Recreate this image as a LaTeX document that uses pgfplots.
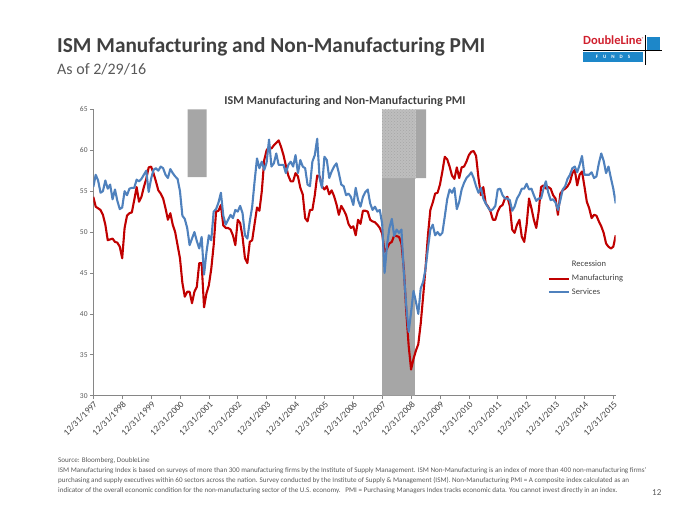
\documentclass[border=0pt]{standalone}
\usepackage{fontspec}
\setmainfont{Carlito}
\usepackage{pgfplots}
\pgfplotsset{compat=1.18}
\usepackage{pgfplotstable}
\usetikzlibrary{patterns}
\definecolor{mfg}{HTML}{C00000}
\definecolor{svc}{HTML}{4F81BD}
\definecolor{rec}{HTML}{A6A6A6}
\definecolor{recl}{HTML}{BEBEBE}
\definecolor{txt}{HTML}{404040}
\definecolor{txtl}{HTML}{595959}
\definecolor{axisgray}{HTML}{868686}
\definecolor{dlred}{HTML}{D0202E}
\definecolor{dlblue}{HTML}{1D87C9}

\pgfplotstableread{
k mfg svc
0 54.3 55.5
1 53.1 57.0
2 52.9 56.3
3 52.7 54.8
4 52.1 55.0
5 50.9 56.3
6 49.0 55.3
7 49.1 55.8
8 49.2 54.0
9 48.8 55.2
10 48.7 53.8
11 48.2 52.8
12 46.8 53.0
13 50.5 55.0
14 52.0 54.5
15 52.3 55.3
16 52.4 55.4
17 53.9 55.4
18 55.5 56.4
19 53.7 56.2
20 54.3 56.5
21 55.5 57.0
22 56.5 57.5
23 57.9 54.9
24 58.0 56.5
25 57.2 57.6
26 56.2 57.8
27 55.1 57.5
28 54.7 58.0
29 54.1 57.8
30 52.9 57.0
31 51.5 56.6
32 52.3 57.7
33 50.9 57.2
34 50.0 56.8
35 48.4 56.5
36 46.8 55.0
37 43.8 52.0
38 42.1 51.6
39 42.7 50.5
40 42.7 48.4
41 41.3 49.2
42 42.7 50.0
43 43.3 48.9
44 46.2 48.0
45 46.2 49.4
46 40.8 44.8
47 42.5 47.5
48 43.5 49.6
49 45.5 49.0
50 48.4 52.5
51 52.5 52.8
52 52.6 53.6
53 53.3 54.8
54 50.8 52.0
55 50.5 50.9
56 50.5 51.5
57 50.3 52.1
58 49.6 51.7
59 48.4 52.7
60 51.5 52.5
61 51.1 53.2
62 49.4 52.3
63 46.8 49.6
64 46.2 49.2
65 48.8 51.3
66 49.0 53.1
67 51.0 56.2
68 53.0 59.0
69 52.6 57.8
70 55.0 58.6
71 58.8 57.6
72 60.0 58.5
73 60.4 61.3
74 60.2 58.0
75 60.6 58.4
76 60.9 59.6
77 61.2 58.2
78 60.4 58.2
79 59.4 58.2
80 58.1 57.2
81 56.9 58.2
82 56.2 58.6
83 56.2 58.0
84 57.2 59.4
85 56.8 57.2
86 55.4 58.8
87 54.6 58.0
88 51.7 57.8
89 51.3 55.8
90 52.7 55.6
91 52.7 58.6
92 54.5 59.4
93 56.9 61.4
94 56.8 56.6
95 55.6 55.4
96 55.2 59.2
97 55.6 58.8
98 54.6 56.6
99 55.1 57.4
100 54.4 58.0
101 53.4 58.4
102 52.1 57.2
103 53.2 55.8
104 52.7 55.6
105 52.1 54.5
106 51.0 54.7
107 50.5 54.3
108 50.7 53.3
109 49.6 55.4
110 51.5 53.9
111 51.0 53.1
112 52.6 54.3
113 52.6 54.9
114 52.5 55.2
115 51.5 53.5
116 51.3 52.7
117 51.2 53.1
118 50.9 52.5
119 50.5 52.7
120 49.8 51.0
121 47.6 45.0
122 48.0 48.4
123 48.6 50.5
124 48.8 51.6
125 49.6 49.5
126 49.5 50.3
127 49.4 49.9
128 48.6 50.3
129 45.5 45.0
130 40.3 41.0
131 36.1 37.8
132 33.2 40.2
133 34.5 42.8
134 35.5 41.5
135 36.3 40.0
136 38.8 43.1
137 42.1 43.9
138 45.6 45.5
139 49.6 48.0
140 52.7 50.3
141 53.6 50.9
142 54.7 49.6
143 54.8 50.0
144 55.8 49.6
145 57.4 49.9
146 59.2 51.9
147 58.9 54.0
148 58.0 55.2
149 56.9 54.8
150 56.5 55.4
151 57.9 52.8
152 56.6 53.7
153 57.9 55.2
154 58.0 56.0
155 58.6 56.6
156 59.4 56.9
157 59.8 57.3
158 59.9 56.6
159 59.3 55.6
160 56.6 54.8
161 54.5 55.4
162 55.5 54.1
163 53.5 53.5
164 53.1 53.0
165 52.5 52.6
166 51.5 52.8
167 51.5 53.2
168 52.5 55.2
169 53.1 55.3
170 53.3 54.5
171 54.1 54.1
172 54.3 54.1
173 53.2 53.9
174 50.3 52.6
175 49.9 53.1
176 50.9 54.1
177 51.5 54.6
178 49.4 55.3
179 48.8 55.3
180 50.9 55.9
181 54.1 55.2
182 52.9 55.3
183 51.5 54.5
184 50.5 53.8
185 52.5 54.1
186 55.5 54.1
187 55.7 55.3
188 55.3 56.2
189 55.5 54.8
190 55.3 53.9
191 54.5 54.0
192 54.1 53.6
193 52.1 52.7
194 54.7 53.9
195 55.1 55.2
196 55.3 55.6
197 55.6 56.5
198 56.1 57.0
199 57.2 57.8
200 57.6 58.0
201 55.7 57.3
202 57.0 58.2
203 57.4 59.3
204 55.6 57.0
205 53.7 57.0
206 52.9 57.0
207 51.7 57.3
208 52.1 56.6
209 52.0 56.8
210 51.3 58.4
211 50.7 59.6
212 49.9 58.7
213 48.6 57.2
214 48.2 58.0
215 48.0 56.6
216 48.2 55.3
217 49.6 53.5
}\pmi

\begin{document}
\begin{tikzpicture}[x=1pt,y=1pt]
\path[use as bounding box] (0,0) rectangle (700,525);
% headings
\node[anchor=base west, inner sep=0, font=\fontsize{21.3}{25}\selectfont\bfseries, text=txt] at (57,472) {ISM Manufacturing and Non-Manufacturing PMI};
\node[anchor=base west, inner sep=0, font=\fontsize{16}{19}\selectfont, text=txtl] at (57,450) {As of 2/29/16};
\node[anchor=base, inner sep=0, font=\fontsize{12}{14}\selectfont\bfseries, text=txt] at (345,420) {ISM Manufacturing and Non-Manufacturing PMI};
% logo
\node[anchor=base west, inner sep=0, font=\fontsize{12.5}{13}\selectfont\bfseries, text=dlred] at (583,480) {DoubleLine\textsuperscript{\fontsize{4}{4}\selectfont ®}};
\fill[dlblue] (583,463) rectangle (643,473);
\node[inner sep=0, font=\fontsize{5}{5}\selectfont\bfseries, text=white] at (613,468) {F\enspace\enspace U\enspace\enspace N\enspace\enspace D\enspace\enspace S};
\fill[dlblue] (647,475) rectangle (660,488);
\draw[black, line width=0.8pt] (645,460) -- (645,490);
\draw[black, line width=0.8pt] (583,474.5) -- (662,474.5);
% footer
\begin{scope}[every node/.style={anchor=base west, inner sep=0, font=\fontsize{7.1}{8}\selectfont, text=txtl}]
\node at (58,63) {Source: Bloomberg, DoubleLine};
\node at (58,53) {ISM Manufacturing Index is based on surveys of more than 300 manufacturing firms by the Institute of Supply Management. ISM Non-Manufacturing is an index of more than 400 non-manufacturing firms'};
\node at (58,43) {purchasing and supply executives within 60 sectors across the nation. Survey conducted by the Institute of Supply \& Management (ISM). Non-Manufacturing PMI = A composite index calculated as an};
\node at (58,33) {indicator of the overall economic condition for the non-manufacturing sector of the U.S. economy.\ \ \ PMI = Purchasing Managers Index tracks economic data. You cannot invest directly in an index.};
\end{scope}
\node[anchor=base west, inner sep=0, font=\fontsize{9}{10}\selectfont, text=txtl] at (652,30) {12};

\begin{axis}[
  at={(93.3pt,129.3pt)}, anchor=south west,
  scale only axis, width=522.4pt, height=286.4pt,
  xmin=0, xmax=217, ymin=30, ymax=65,
  axis lines=left,
  axis line style={-, draw=axisgray, line width=0.8pt},
  tick style={draw=axisgray, line width=0.6pt},
  tick align=outside, major tick length=3.5pt,
  ytick={30,35,...,65},
  xtick={0,12,...,216},
  xticklabels={12/31/1997,12/31/1998,12/31/1999,12/31/2000,12/31/2001,12/31/2002,12/31/2003,12/31/2004,12/31/2005,12/31/2006,12/31/2007,12/31/2008,12/31/2009,12/31/2010,12/31/2011,12/31/2012,12/31/2013,12/31/2014,12/31/2015},
  xticklabel style={rotate=45, anchor=north east, inner sep=1pt, font=\fontsize{9}{10}\selectfont, text=txt},
  yticklabel style={font=\fontsize{7.5}{9}\selectfont, text=txtl, inner sep=2pt},
  /pgf/number format/assume math mode=true,
  legend cell align=left,
  legend style={at={(0.870,0.478)}, anchor=north west, draw=none, fill=none,
    font=\fontsize{8.5}{10}\selectfont, text=txt, row sep=2.5pt, inner sep=0pt},
  legend image code/.code={\draw[#1, line width=2pt] (0pt,0pt) -- (20pt,0pt);},
]
% recession shading
\addplot[draw=none, fill=rec, forget plot] coordinates {(39.2,56.7) (39.2,65) (47.1,65) (47.1,56.7) (39.2,56.7)};
\addplot[draw=none, fill=rec, forget plot] coordinates {(120,30) (120,56.6) (133.6,56.6) (133.6,30) (120,30)};
\addplot[draw=none, fill=recl, forget plot] coordinates {(120,56.6) (120,65) (133.9,65) (133.9,56.6) (120,56.6)};
\addplot[draw=none, pattern=crosshatch dots, pattern color=rec, forget plot] coordinates {(120,56.6) (120,65) (133.9,65) (133.9,56.6) (120,56.6)};
\addplot[draw=none, fill=rec, forget plot] coordinates {(133.9,56.6) (133.9,65) (138.2,65) (138.2,56.6) (133.9,56.6)};
\addlegendimage{empty legend}
\addlegendentry{Recession}
\addplot[mfg, line width=2.1pt, line join=round] table[x=k, y=mfg] {\pmi};
\addlegendentry{Manufacturing}
\addplot[svc, line width=2.1pt, line join=round] table[x=k, y=svc] {\pmi};
\addlegendentry{Services}
\end{axis}
\end{tikzpicture}
\end{document}
